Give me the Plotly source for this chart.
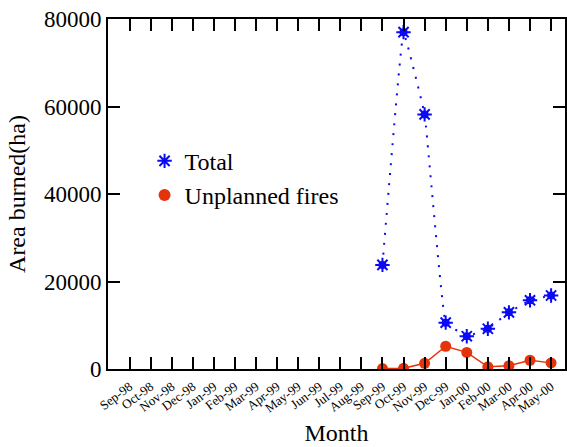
import plotly.graph_objects as go

months = ["Sep-98", "Oct-98", "Nov-98", "Dec-98", "Jan-99", "Feb-99", "Mar-99", "Apr-99",
          "May-99", "Jun-99", "Jul-99", "Aug-99", "Sep-99", "Oct-99", "Nov-99", "Dec-99",
          "Jan-00", "Feb-00", "Mar-00", "Apr-00", "May-00"]
data_months = ["Sep-99", "Oct-99", "Nov-99", "Dec-99", "Jan-00", "Feb-00", "Mar-00", "Apr-00", "May-00"]
total = [23800, 77000, 58200, 10600, 7500, 9200, 12950, 15700, 16800]
unplanned = [100, 150, 1300, 5200, 3800, 500, 750, 2000, 1400]
y_ticks = [0, 20000, 40000, 60000, 80000]

idx = [months.index(m) for m in data_months]
blue = "#0a0af5"
red = "#e3340c"
font = "Liberation Serif"

fig = go.Figure()
# lines (no legend)
fig.add_trace(go.Scatter(
    x=idx, y=total, mode="lines", showlegend=False, hoverinfo="skip",
    line=dict(color=blue, width=2, dash="2px,8px", shape="spline", smoothing=0.2)))
fig.add_trace(go.Scatter(
    x=idx, y=unplanned, mode="lines", showlegend=False, hoverinfo="skip",
    line=dict(color=red, width=1.5)))
# markers
fig.add_trace(go.Scatter(
    x=idx, y=total, mode="markers", showlegend=False, hoverinfo="skip",
    marker=dict(symbol="circle", size=8, color=blue)))
fig.add_trace(go.Scatter(
    x=idx, y=total, mode="markers", name="Total",
    marker=dict(symbol="asterisk-open", size=12, color=blue, line=dict(color=blue, width=2))))
fig.add_trace(go.Scatter(
    x=idx, y=unplanned, mode="markers", name="Unplanned fires",
    marker=dict(symbol="circle", size=11, color=red)))

fig.update_layout(
    width=567, height=447,
    margin=dict(l=108, r=0, t=19, b=78),
    plot_bgcolor="white", paper_bgcolor="white",
    font=dict(family=font, color="black"),
    legend=dict(x=0.08, y=0.545, xanchor="left", yanchor="middle",
                font=dict(size=24, family=font), bgcolor="rgba(0,0,0,0)",
                itemsizing="constant", tracegroupgap=0),
    xaxis=dict(
        range=[-1.02, 20.66], tickmode="array", tickvals=list(range(len(months))),
        ticktext=months, tickangle=-37, tickfont=dict(size=13, family=font),
        ticklabelstandoff=3,
        ticks="inside", ticklen=12, tickwidth=1.5, tickcolor="black",
        showline=True, linecolor="black", linewidth=2, mirror="ticks",
        showgrid=False, zeroline=False,
        title=dict(text="Month", font=dict(size=24, family=font), standoff=10)),
    yaxis=dict(
        range=[0, 80000], tickmode="array", tickvals=y_ticks,
        ticktext=[str(v) for v in y_ticks],
        tickfont=dict(size=23, family=font),
        ticks="inside", ticklen=12, tickwidth=1.5, tickcolor="black",
        showline=True, linecolor="black", linewidth=2, mirror="ticks",
        showgrid=False, zeroline=False,
        title=dict(text="Area burned(ha)", font=dict(size=24, family=font), standoff=12)),
)

fig.write_html("out.html")
